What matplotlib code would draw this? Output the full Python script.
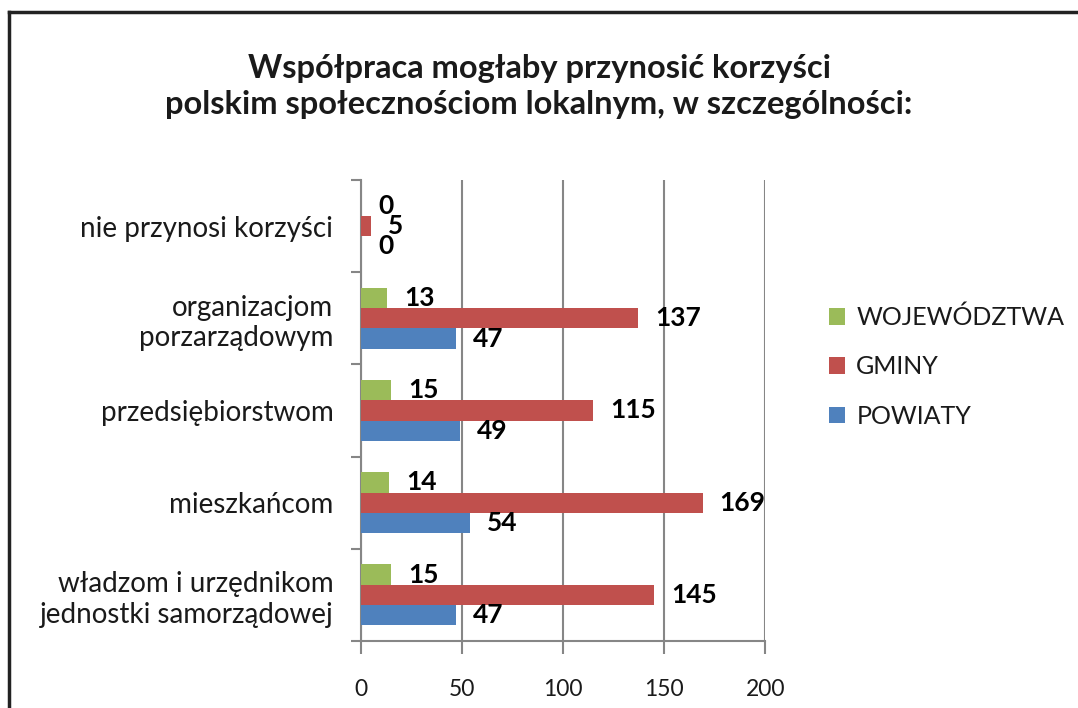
import numpy as np
import matplotlib.pyplot as plt
from matplotlib.lines import Line2D

plt.rcParams['font.family'] = ['Lato', 'DejaVu Sans']

categories = ['władzom i urzędnikom\njednostki samorządowej', 'mieszkańcom',
              'przedsiębiorstwom', 'organizacjom\nporzarządowym', 'nie przynosi korzyści']
wojewodztwa = [15, 14, 15, 13, 0]
gminy = [145, 169, 115, 137, 5]
powiaty = [47, 54, 49, 47, 0]
xticks = [0, 50, 100, 150, 200]

c_green = '#9BBB59'
c_red = '#C0504D'
c_blue = '#4F81BD'

fig = plt.figure(figsize=(10.78, 7.08), dpi=100)
ax = fig.add_axes([0.335, 0.0946, 0.3748, 0.6512])

y = np.arange(len(categories))
h = 0.22
series = [('WOJEWÓDZTWA', wojewodztwa, c_green, h),
          ('GMINY', gminy, c_red, 0),
          ('POWIATY', powiaty, c_blue, -h)]
for name, vals, col, off in series:
    ax.barh(y + off, vals, height=h, color=col, label=name, zorder=3)
    for yi, v in zip(y, vals):
        ax.text(v + 8.5, yi + off, str(v), ha='left', va='center',
                fontsize=19, fontweight='bold', color='black', zorder=4)

ax.set_xlim(0, 200)
ax.set_ylim(-0.5, len(categories) - 0.5)
ax.set_xticks(xticks)
ax.set_xticklabels([str(t) for t in xticks])
ax.set_yticks(y)
ax.set_yticklabels(categories, fontsize=20, linespacing=1.2, color='#1a1a1a')
ax.set_yticks(np.arange(-0.5, len(categories)), minor=True)
ax.tick_params(axis='y', which='major', length=0, pad=20)
ax.tick_params(axis='y', which='minor', length=7, color='#868686', width=1.5)
ax.tick_params(axis='x', length=9, color='#868686', width=1.5, pad=18,
               labelsize=16.5, labelcolor='#1a1a1a')
ax.grid(axis='x', color='#868686', linewidth=1.5, zorder=0)
for s in ['top', 'right']:
    ax.spines[s].set_visible(False)
for s in ['left', 'bottom']:
    ax.spines[s].set_color('#868686')
    ax.spines[s].set_linewidth(1.5)

fig.text(0.5, 0.878, 'Współpraca mogłaby przynosić korzyści\npolskim społecznościom lokalnym, w szczególności:',
         ha='center', va='center', fontsize=23.5, fontweight='bold', linespacing=1.3,
         color='#1a1a1a')

handles, labels = ax.get_legend_handles_labels()
leg = fig.legend(handles, labels, loc='center left', bbox_to_anchor=(0.748, 0.482),
                 frameon=False, fontsize=18, handlelength=0.65, handleheight=0.65,
                 handletextpad=0.45, labelspacing=1.05)
for t in leg.get_texts():
    t.set_color('#1a1a1a')

# frame: top and left edges only
fig.add_artist(Line2D([9 / 1078, 1.0], [1 - 12 / 708, 1 - 12 / 708],
                      transform=fig.transFigure, color='#222222', linewidth=2.5))
fig.add_artist(Line2D([9 / 1078, 9 / 1078], [0.0, 1 - 12 / 708],
                      transform=fig.transFigure, color='#222222', linewidth=2.5))

fig.savefig('out.png', dpi=100, facecolor='white')
